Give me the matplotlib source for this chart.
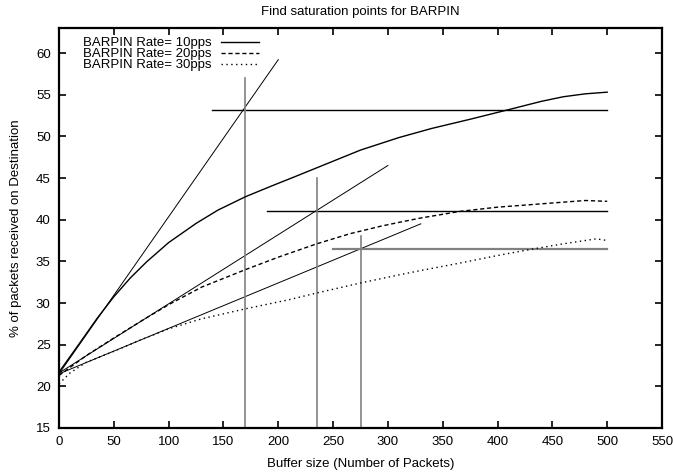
import matplotlib
matplotlib.use("Agg")
import matplotlib.pyplot as plt

plt.rcParams['font.family'] = ['Liberation Sans', 'DejaVu Sans']

# measured curves
buf_10 = [0, 20, 35, 50, 65, 80, 100, 125, 145, 170, 195, 215, 245, 275, 310, 340, 375, 410, 440, 460, 480, 500]
pct_10 = [21.7, 25.4, 28.2, 30.75, 33.0, 34.95, 37.25, 39.55, 41.15, 42.75, 44.1, 45.15, 46.75, 48.35, 49.85, 50.95, 52.05, 53.2, 54.2, 54.75, 55.1, 55.3]

buf_20 = [0, 25, 50, 77, 100, 130, 170, 200, 235, 265, 293, 311, 330, 366, 400, 430, 460, 480, 500]
pct_20 = [21.3, 23.7, 25.8, 28.0, 29.8, 31.9, 34.0, 35.5, 37.1, 38.3, 39.2, 39.7, 40.2, 41.0, 41.5, 41.8, 42.1, 42.3, 42.2]

buf_30 = [0, 10, 25, 50, 75, 100, 130, 170, 210, 235, 275, 311, 330, 366, 400, 433, 460, 475, 490, 500]
pct_30 = [20.3, 21.6, 22.9, 24.2, 25.6, 26.9, 28.1, 29.3, 30.4, 31.2, 32.4, 33.4, 33.9, 34.8, 35.7, 36.5, 37.1, 37.4, 37.7, 37.5]

labels = ["BARPIN Rate= 10pps", "BARPIN Rate= 20pps", "BARPIN Rate= 30pps"]

# saturation construction: tangent (x0,y0,x1,y1), level (xstart,y), vertical (x,ytop)
tangents = [(0, 21.5, 200, 59.2), (0, 21.6, 300, 46.5), (0, 21.5, 330, 39.5)]
levels = [(140, 53.2), (190, 41.1), (250, 36.5)]
level_colors = ["black", "black", "#808080"]
verticals = [(170, 57.0), (235, 45.0), (275, 38.0)]

fig = plt.figure(figsize=(6.73, 4.74), dpi=100)
ax = fig.add_axes([59 / 673, 1 - 428 / 474, 603 / 673, 400 / 474])

for (x0, y0, x1, y1) in tangents:
    ax.plot([x0, x1], [y0, y1], color="black", lw=0.7)
for (xs, yl), c in zip(levels, level_colors):
    ax.plot([xs, 500], [yl, yl], color=c, lw=1.0 if c == "black" else 1.6)
for (xv, yt) in verticals:
    ax.plot([xv, xv], [15, yt], color="#808080", lw=1.2)

ax.plot(buf_10, pct_10, color="black", lw=1.0, label=labels[0])
ax.plot(buf_20, pct_20, color="black", lw=1.0, ls=(0, (3, 2)), label=labels[1])
ax.plot(buf_30, pct_30, color="black", lw=1.0, ls=(0, (1, 2.5)), label=labels[2])

ax.set_xlim(0, 550)
ax.set_ylim(15, 63)
ax.set_xticks(range(0, 551, 50))
ax.set_yticks(range(15, 61, 5))
ax.tick_params(direction="in", length=5, width=1.2, top=True, right=True,
               labelsize=9.5, pad=6)
for s in ax.spines.values():
    s.set_linewidth(1.6)

ax.set_xlabel("Buffer size (Number of Packets)", fontsize=9.5, labelpad=7)
ax.set_ylabel("% of packets received on Destination", fontsize=9.5, labelpad=10)
ax.set_title("Find saturation points for BARPIN", fontsize=9.5, pad=9)

handles, labs = ax.get_legend_handles_labels()
ax.legend(handles, labs, loc="upper left", bbox_to_anchor=(0.025, 1.0),
          frameon=False, markerfirst=False, fontsize=9.5, handlelength=2.9,
          handletextpad=0.65, labelspacing=-0.1, borderaxespad=0.3)

fig.savefig("out.png", dpi=100)
